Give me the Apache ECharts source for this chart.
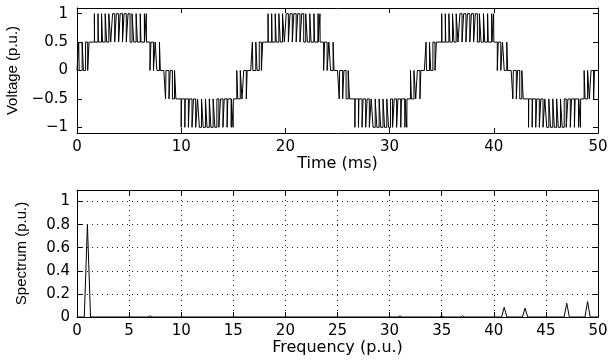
<!DOCTYPE html>
<html>
<head>
<meta charset="utf-8">
<script src="https://cdn.jsdelivr.net/npm/echarts@6/dist/echarts.min.js"></script>
<style>
html, body { margin: 0; padding: 0; background: #fff; }
#chart { width: 612px; height: 360px; }
</style>
</head>
<body>
<div id="chart"></div>
<script>
// switching edges of one 60 Hz cycle (ms), output jumps to the level listed
const cycleStarts = [0, 16.667, 33.333];
const timeEnd = 50;

const posHalfTimes = [0, 0.164, 0.206, 0.494, 0.616, 0.824, 1.026, 1.156,
  1.668, 1.688, 2.015, 2.055, 2.357, 2.453, 2.704, 2.846, 3.056, 3.234,
  3.413, 3.617, 3.776, 3.994, 4.144, 4.366, 4.518, 4.732, 4.898, 5.092,
  5.284, 5.446, 5.674, 5.796, 6.070, 6.140, 6.469, 6.481, 6.650, 6.670,
  7.002, 7.094, 7.336, 7.503, 7.667, 7.913, 7.997];
const posHalfLevels = [0, 0.5, 0, 0.5, 0, 0.5, 0, 0.5,
  1, 0.5, 1, 0.5, 1, 0.5, 1, 0.5, 1, 0.5,
  1, 0.5, 1, 0.5, 1, 0.5, 1, 0.5, 1, 0.5,
  1, 0.5, 1, 0.5, 1, 0.5, 1, 0.5, 1, 0.5,
  0, 0.5, 0, 0.5, 0, 0.5, 0];

const negHalfTimes = [8.333, 8.497, 8.539, 8.827, 8.949, 9.157, 9.359, 9.489,
  10.001, 10.021, 10.348, 10.388, 10.690, 10.786, 11.037, 11.179, 11.389, 11.567,
  11.746, 11.950, 12.109, 12.327, 12.477, 12.699, 12.851, 13.065, 13.231, 13.425,
  13.617, 13.779, 14.007, 14.129, 14.403, 14.473, 14.802, 14.814, 14.983, 15.003,
  15.335, 15.427, 15.669, 15.836, 16.000, 16.246, 16.330];
const negHalfLevels = [0, -0.5, 0, -0.5, 0, -0.5, 0, -0.5,
  -1, -0.5, -1, -0.5, -1, -0.5, -1, -0.5, -1, -0.5,
  -1, -0.5, -1, -0.5, -1, -0.5, -1, -0.5, -1, -0.5,
  -1, -0.5, -1, -0.5, -1, -0.5, -1, -0.5, -1, -0.5,
  0, -0.5, 0, -0.5, 0, -0.5, 0];

// harmonic spectrum (p.u. frequency, p.u. amplitude)
const specFreq = [0, 0.7, 1, 1.3, 6.8, 7, 7.2, 30.8, 31, 31.2, 34.8, 35, 35.2,
  36.8, 37, 37.2, 40.75, 41, 41.25, 42.75, 43, 43.25, 46.75, 47, 47.25,
  48.75, 49, 49.25, 50];
const specAmp = [0, 0, 0.8, 0, 0, 0.01, 0, 0, 0.01, 0, 0, 0.01, 0,
  0, 0.01, 0, 0, 0.085, 0, 0, 0.077, 0, 0, 0.12, 0,
  0, 0.134, 0, 0];

// ticks
const voltTicks = [-1, -0.5, 0, 0.5, 1];
const specTicks = [0, 0.2, 0.4, 0.6, 0.8, 1];

// build the step waveform
const cycleTimes = posHalfTimes.concat(negHalfTimes);
const cycleLevels = posHalfLevels.concat(negHalfLevels);
const wave = [];
let last = 0;
cycleStarts.forEach(t0 => {
  cycleTimes.forEach((t, i) => {
    const tt = t0 + t;
    if (tt > timeEnd) return;
    wave.push([tt, last]);
    wave.push([tt, cycleLevels[i]]);
    last = cycleLevels[i];
  });
});
wave.push([timeEnd, last]);

const spectrum = specFreq.map((f, i) => [f, specAmp[i]]);

const tickFont = 'DejaVu Sans';
const minus = v => String(v).replace('-', '\u2212');
const black = '#000';
const frame = { show: true, onZero: false, lineStyle: { color: black, width: 1 } };
const inTick = { show: true, inside: true, length: 5, lineStyle: { color: black } };
const dots = { show: true, lineStyle: { color: '#222', width: 1, type: [1, 4] } };
const yNameStyle = { fontFamily: 'Liberation Sans', fontSize: 15, color: black };

function xPair(grid, interval, name, nameGap, dotted) {
  const base = {
    gridIndex: grid, type: 'value', min: 0, max: 50, interval: interval,
    axisLine: frame, axisTick: inTick
  };
  return [
    Object.assign({}, base, {
      position: 'bottom',
      name: name, nameLocation: 'middle', nameGap: nameGap,
      nameTextStyle: { fontFamily: tickFont, fontSize: 16, color: black },
      axisLabel: { margin: 7, fontFamily: tickFont, fontSize: 15, color: black },
      splitLine: dotted ? dots : { show: false }
    }),
    Object.assign({}, base, { position: 'top', axisLabel: { show: false }, splitLine: { show: false } })
  ];
}

const option = {
  animation: false,
  backgroundColor: '#fff',
  grid: [
    { left: 77, right: 14, top: 8, height: 125, containLabel: false, outerBoundsMode: 'none' },
    { left: 77, right: 14, top: 190, height: 127, containLabel: false, outerBoundsMode: 'none' }
  ],
  xAxis: [].concat(
    xPair(0, 10, 'Time (ms)', 17, false),
    xPair(1, 5, 'Frequency (p.u.)', 16, true)
  ),
  yAxis: [
    {
      gridIndex: 0, type: 'value', position: 'left', min: -1.1, max: 1.1,
      name: 'Voltage (p.u.)', nameLocation: 'middle', nameGap: 48,
      nameTextStyle: yNameStyle,
      axisLine: frame,
      axisTick: Object.assign({}, inTick, { customValues: voltTicks }),
      axisLabel: { margin: 9, customValues: voltTicks, formatter: minus,
        fontFamily: tickFont, fontSize: 15, color: black },
      splitLine: { show: false }
    },
    {
      gridIndex: 0, type: 'value', position: 'right', min: -1.1, max: 1.1,
      axisLine: frame,
      axisTick: Object.assign({}, inTick, { customValues: voltTicks }),
      axisLabel: { show: false },
      splitLine: { show: false }
    },
    {
      gridIndex: 1, type: 'value', position: 'left', min: 0, max: 1.1, interval: 0.2,
      name: 'Spectrum (p.u.)', nameLocation: 'middle', nameGap: 48,
      nameTextStyle: yNameStyle,
      axisLine: frame, axisTick: inTick,
      axisLabel: { margin: 7, fontFamily: tickFont, fontSize: 15, color: black,
        formatter: v => specTicks.some(t => Math.abs(t - v) < 1e-6) ? String(+v.toFixed(1)) : '' },
      splitLine: dots
    },
    {
      gridIndex: 1, type: 'value', position: 'right', min: 0, max: 1.1, interval: 0.2,
      axisLine: frame, axisTick: inTick,
      axisLabel: { show: false },
      splitLine: { show: false }
    }
  ],
  series: [
    {
      type: 'line', xAxisIndex: 0, yAxisIndex: 0, data: wave,
      showSymbol: false, symbol: 'none',
      lineStyle: { color: black, width: 1 }
    },
    {
      type: 'line', xAxisIndex: 2, yAxisIndex: 2, data: spectrum,
      showSymbol: false, symbol: 'none',
      lineStyle: { color: black, width: 1 }
    }
  ]
};

const chart = echarts.init(document.getElementById('chart'));
chart.setOption(option);
</script>
</body>
</html>
